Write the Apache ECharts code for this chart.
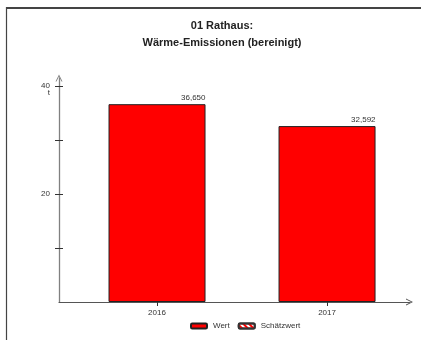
<!DOCTYPE html>
<html>
<head>
<meta charset="utf-8">
<script src="https://cdn.jsdelivr.net/npm/echarts@6/dist/echarts.min.js"></script>
<style>
  html, body { margin: 0; padding: 0; background: #fff; }
  #chart { width: 421px; height: 340px; }
</style>
</head>
<body>
<div id="chart"></div>
<script>
// Jahre, Messwerte (t) und Schätzwerte
const years = ['2016', '2017'];
const wertValues = [36.650, 32.592];
const schaetzValues = [];
const yTickValues = [10, 20, 30, 40];
const yLabelValues = [20, 40];

const FONT = '"Liberation Sans", Arial, sans-serif';
const TEXT = '#333';
const BAR_W = 97;

// open chevron used as arrow head at the axis ends
const chevron = 'path://M0,10 L5,0 L10,10 L8.6,10 L5,2.8 L1.4,10 Z';

const fmt = v => v.toFixed(3).replace('.', ',');

const chart = echarts.init(document.getElementById('chart'), null, { renderer: 'canvas' });

chart.setOption({
  animation: false,
  backgroundColor: '#fff',
  textStyle: { fontFamily: FONT },
  title: {
    text: '01 Rathaus:\nWärme-Emissionen (bereinigt)',
    left: 217,
    top: 12,
    textAlign: 'center',
    textStyle: { fontFamily: FONT, fontSize: 11, fontWeight: 'bold', color: '#222', lineHeight: 17 }
  },
  legend: {
    left: 185,
    top: 317,
    itemWidth: 16,
    itemHeight: 5,
    itemGap: 8,
    icon: 'roundRect',
    textStyle: { fontFamily: FONT, fontSize: 8, color: TEXT, padding: [0, 0, 0, 1] },
    data: ['Wert', 'Schätzwert']
  },
  grid: { left: 59, right: 11.5, top: 78, bottom: 38 },
  xAxis: {
    type: 'value',
    min: -0.5765,
    max: 1.485,
    splitLine: { show: false },
    axisLine: {
      show: true,
      onZero: false,
      lineStyle: { color: '#555', width: 1.2 },
      symbol: ['none', chevron],
      symbolSize: [8, 7]
    },
    axisTick: { show: true, length: 4, customValues: [0, 1], lineStyle: { color: '#333', width: 1 } },
    axisLabel: {
      customValues: [0, 1],
      formatter: v => years[Math.round(v)] || '',
      fontFamily: FONT, fontSize: 8, color: TEXT, margin: 7
    }
  },
  yAxis: [
    {
      type: 'value',
      min: 0,
      max: 41.5,
      name: 't',
      nameLocation: 'end',
      nameGap: 0,
      nameMoveOverlap: false,
      nameTextStyle: {
        fontFamily: FONT, fontSize: 8, color: TEXT,
        align: 'right', verticalAlign: 'top',
        padding: [11, 9, 0, 0]
      },
      splitLine: { show: false },
      axisLine: {
        show: true,
        onZero: false,
        lineStyle: { color: '#808080', width: 1.3 },
        symbol: ['none', chevron],
        symbolSize: [8, 7]
      },
      axisTick: { show: true, length: 4, customValues: yTickValues, lineStyle: { color: '#333', width: 1 } },
      axisLabel: { customValues: yLabelValues, fontFamily: FONT, fontSize: 8, color: TEXT, margin: 9 }
    },
    {
      type: 'value',
      min: 0,
      max: 41.5,
      position: 'left',
      splitLine: { show: false },
      axisLine: { show: false, onZero: false },
      axisTick: { show: true, inside: true, length: 4, customValues: yTickValues, lineStyle: { color: '#333', width: 1 } },
      axisLabel: { show: false }
    }
  ],
  series: [
    {
      name: 'Wert',
      type: 'bar',
      barWidth: BAR_W,
      barGap: '-100%',
      data: wertValues.map((v, i) => [i, v]),
      itemStyle: { color: '#ff0000', borderColor: '#222', borderWidth: 1 },
      label: {
        show: true,
        position: 'top',
        distance: 2,
        align: 'right',
        offset: [BAR_W / 2, 0],
        fontFamily: FONT,
        fontSize: 8,
        color: TEXT,
        formatter: p => fmt(p.value[1])
      }
    },
    {
      name: 'Schätzwert',
      type: 'bar',
      barWidth: BAR_W,
      barGap: '-100%',
      data: schaetzValues,
      itemStyle: {
        color: '#ffffff',
        borderColor: '#333',
        borderWidth: 1,
        decal: {
          symbol: 'rect',
          color: '#ff0000',
          dashArrayX: [1, 0],
          dashArrayY: [2, 2],
          rotation: Math.PI / 4
        }
      }
    }
  ],
  graphic: [
    {
      type: 'line',
      shape: { x1: 6, y1: 8, x2: 421, y2: 8 },
      style: { stroke: '#444', lineWidth: 2 },
      silent: true
    },
    {
      type: 'line',
      shape: { x1: 6.5, y1: 7, x2: 6.5, y2: 340 },
      style: { stroke: '#444', lineWidth: 1.2 },
      silent: true
    }
  ]
});
</script>
</body>
</html>
